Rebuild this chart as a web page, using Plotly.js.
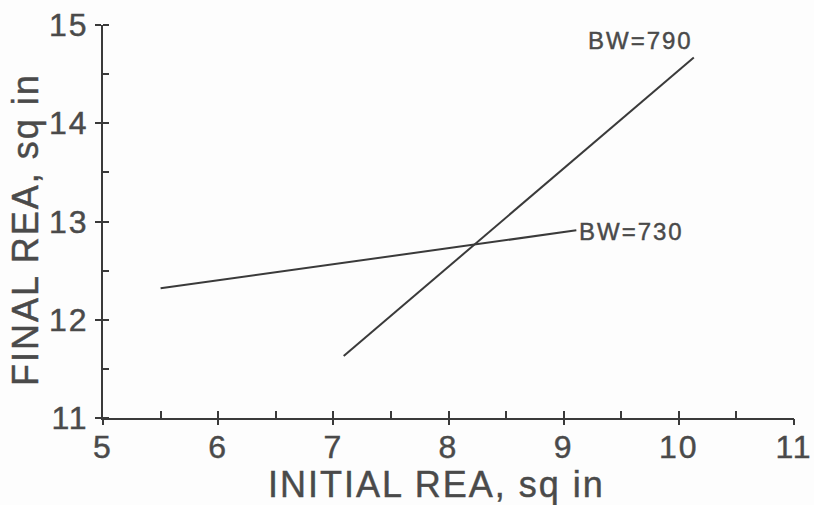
<!DOCTYPE html>
<html><head><meta charset="utf-8">
<script src="https://cdn.plot.ly/plotly-3.0.1.min.js"></script>
<style>
html,body{margin:0;padding:0;background:#fff;}
#c{width:814px;height:505px;}
#c .xtick text, #c .ytick text {letter-spacing: 2px; stroke: #4a4a4a; stroke-width: 0.45px;}
#c .annotation-text {letter-spacing: 2px; stroke: #4a4a4a; stroke-width: 0.45px;}
</style>
</head><body><div id="c"></div>
<script>
const bw730_x = [5.5, 9.11];
const bw730_y = [12.32, 12.91];
const bw790_x = [7.09, 10.13];
const bw790_y = [11.63, 14.67];
const seriesNames = ['BW=730', 'BW=790'];
const xTicks = [5, 6, 7, 8, 9, 10, 11];
const yTicks = [11, 12, 13, 14, 15];
const xTitle = 'INITIAL REA, sq in';
const yTitle = 'FINAL REA, sq in';

const ink = '#3a3a3a';
const txt = '#4a4a4a';
const fam = 'Liberation Sans, Arial, sans-serif';
const traces = [
  {x: bw730_x, y: bw730_y, name: seriesNames[0], mode: 'lines', line: {color: ink, width: 2}},
  {x: bw790_x, y: bw790_y, name: seriesNames[1], mode: 'lines', line: {color: ink, width: 2}},
  {x: [xTicks[0]], y: [yTicks[0]], xaxis: 'x2', yaxis: 'y2', mode: 'markers', marker: {opacity: 0}, hoverinfo: 'skip'}
];
const layout = {
  width: 814, height: 505,
  margin: {l: 103, r: 20, t: 25, b: 87},
  paper_bgcolor: '#fdfdfd', plot_bgcolor: '#fdfdfd',
  showlegend: false,
  font: {family: fam, color: txt},
  xaxis: {
    range: [5, 11], tickvals: xTicks, ticktext: xTicks.map(String),
    showgrid: false, zeroline: false, showline: true, linecolor: ink, linewidth: 2,
    ticks: 'inside', ticklen: 7, tickwidth: 2, tickcolor: ink,
    tickfont: {size: 32, color: txt, family: fam},
    minor: {dtick: 0.5, ticks: 'inside', ticklen: 7, tickwidth: 2, tickcolor: ink, showgrid: false}
  },
  xaxis2: {
    overlaying: 'x', range: [5, 11], tickvals: xTicks, showticklabels: false,
    showgrid: false, zeroline: false, showline: false,
    ticks: 'outside', ticklen: 6, tickwidth: 2, tickcolor: ink
  },
  yaxis: {
    range: [11, 15], tickvals: yTicks, ticktext: yTicks.map(String),
    showgrid: false, zeroline: false, showline: true, linecolor: ink, linewidth: 2,
    ticks: 'outside', ticklen: 6, tickwidth: 2, tickcolor: ink,
    tickfont: {size: 32, color: txt, family: fam},
    minor: {dtick: 0.5, ticks: 'inside', ticklen: 6, tickwidth: 2, tickcolor: ink, showgrid: false}
  },
  yaxis2: {
    overlaying: 'y', range: [11, 15], tickvals: yTicks, showticklabels: false,
    showgrid: false, zeroline: false, showline: false,
    ticks: 'inside', ticklen: 6, tickwidth: 2, tickcolor: ink
  },
  annotations: [
    {x: 9.67, y: 14.84, xref: 'x', yref: 'y', text: seriesNames[1], showarrow: false,
     font: {size: 24, color: txt, family: fam}},
    {x: 9.17, y: 12.9, xref: 'x', yref: 'y', text: seriesNames[0], showarrow: false, xanchor: 'left',
     font: {size: 24, color: txt, family: fam}},
    {x: 0.483, y: -0.168, xref: 'paper', yref: 'paper', text: xTitle, showarrow: false,
     xanchor: 'center', yanchor: 'middle', font: {size: 36, color: txt, family: fam}},
    {x: -0.112, y: 0.48, xref: 'paper', yref: 'paper', text: yTitle, showarrow: false, textangle: -90,
     xanchor: 'center', yanchor: 'middle', font: {size: 36, color: txt, family: fam}}
  ]
};
Plotly.newPlot('c', traces, layout, {displayModeBar: false, staticPlot: true});
</script></body></html>
